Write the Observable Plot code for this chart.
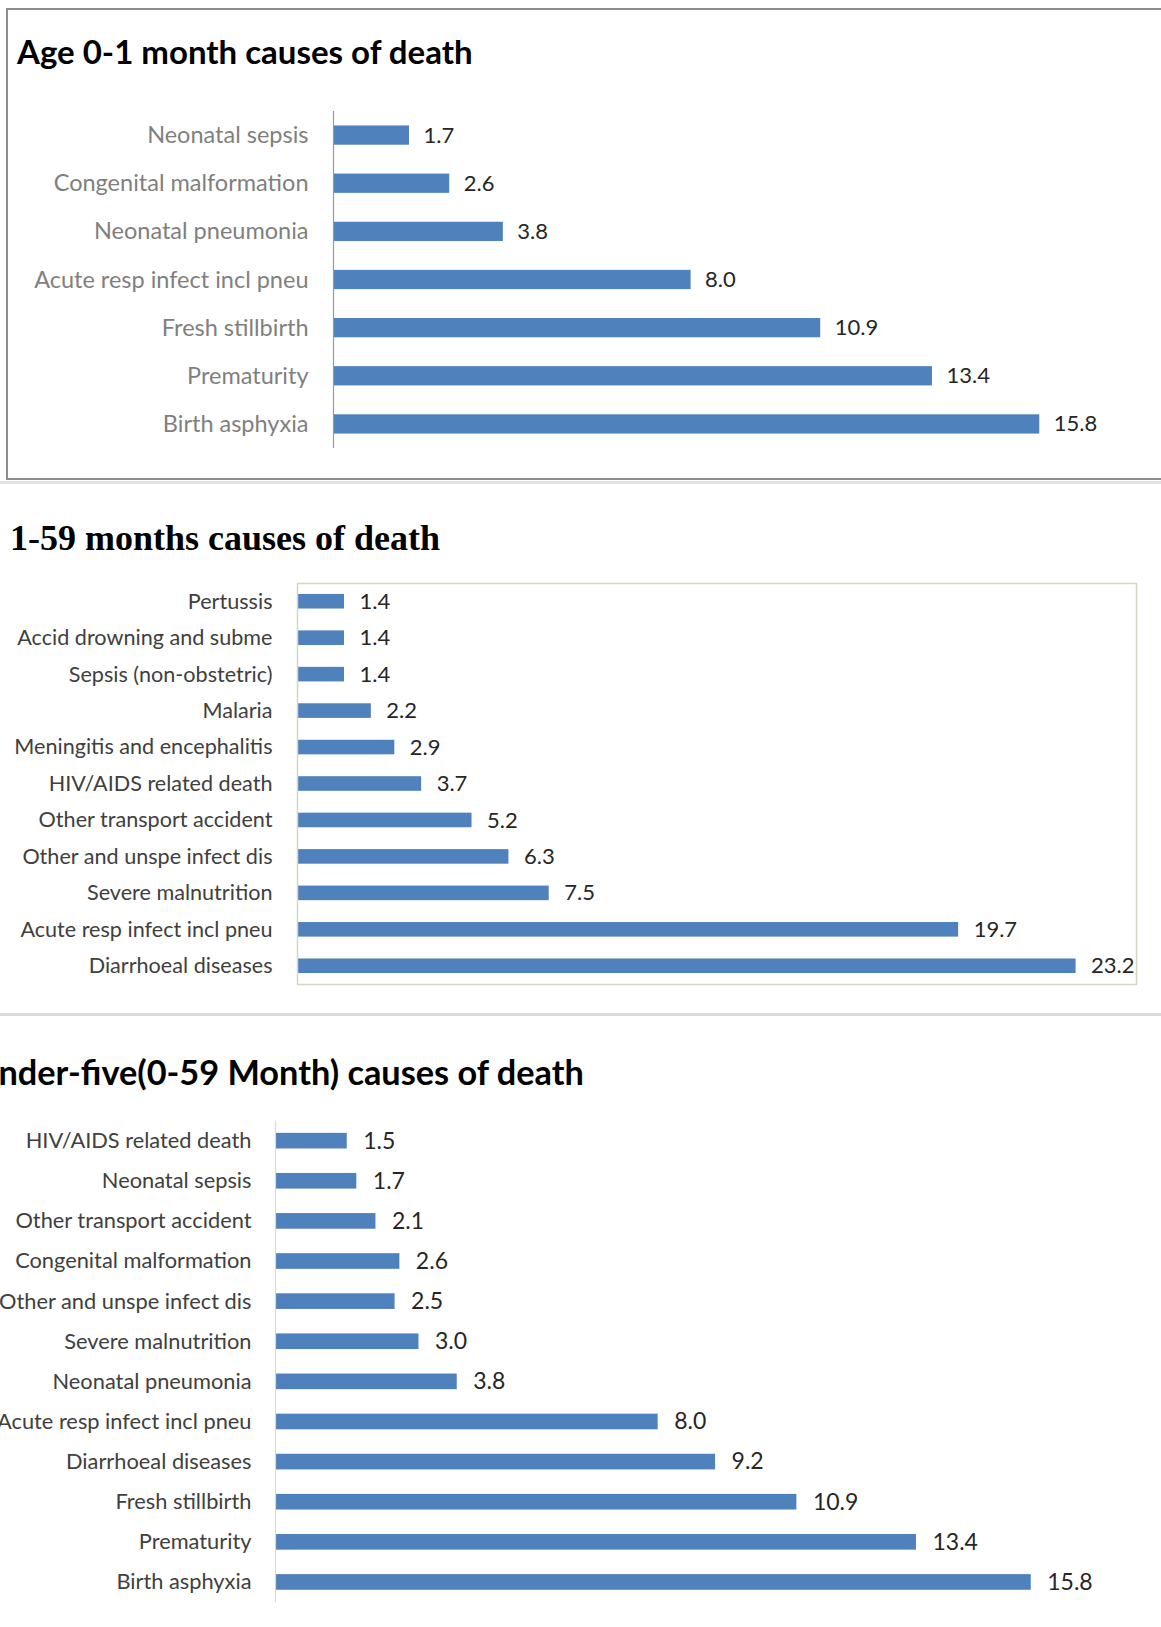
<!DOCTYPE html>
<html>
<head>
<meta charset="utf-8">
<script src="https://cdn.jsdelivr.net/npm/d3@7"></script>
<script src="https://cdn.jsdelivr.net/npm/@observablehq/plot@0.6"></script>
<style>
  html, body { margin: 0; padding: 0; background: #fff; }
  #page { position: relative; width: 1161px; height: 1627px; overflow: hidden; background: #fff; }
  .abs { position: absolute; }
  .title-sans { font-family: Lato, sans-serif; font-weight: 700; line-height: 1; color: #000; white-space: nowrap; }
  .title-serif { font-family: "Liberation Serif", serif; font-weight: 700; font-size: 36px; line-height: 36px; color: #000; white-space: nowrap; }
</style>
</head>
<body>
<div id="page">
  <div id="box1" class="abs" style="left:6px;top:8px;width:1180px;height:472px;box-sizing:border-box;border:2px solid #8e8e8e;"></div>
  <div class="abs" style="left:0;top:481px;width:1161px;height:3px;background:#e2e2e2;"></div>
  <div class="abs" style="left:0;top:1013px;width:1161px;height:3px;background:#dcdcdc;"></div>
  <div id="t1" class="abs title-sans" style="left:17px;top:35px;font-size:33px;">Age 0-1 month causes of death</div>
  <div id="t2" class="abs title-serif" style="left:10px;top:520px;">1-59 months causes of death</div>
  <div id="t3" class="abs title-sans" style="left:-23px;top:1055px;font-size:34.3px;">Under-five(0-59 Month) causes of death</div>
  <div id="c1" class="abs" style="left:0;top:80px;"></div>
  <div id="c2" class="abs" style="left:0;top:570px;"></div>
  <div id="c3" class="abs" style="left:0;top:1100px;"></div>
</div>
<script>
// Age 0-1 month: causes of death (%), listed top to bottom
const neonatalCauses = ["Neonatal sepsis", "Congenital malformation", "Neonatal pneumonia",
  "Acute resp infect incl pneu", "Fresh stillbirth", "Prematurity", "Birth asphyxia"];
const neonatalValues = [1.7, 2.6, 3.8, 8.0, 10.9, 13.4, 15.8];

// 1-59 months: causes of death (%)
const childCauses = ["Pertussis", "Accid drowning and subme", "Sepsis (non-obstetric)", "Malaria",
  "Meningitis and encephalitis", "HIV/AIDS related death", "Other transport accident",
  "Other and unspe infect dis", "Severe malnutrition", "Acute resp infect incl pneu", "Diarrhoeal diseases"];
const childValues = [1.4, 1.4, 1.4, 2.2, 2.9, 3.7, 5.2, 6.3, 7.5, 19.7, 23.2];

// Under-five (0-59 months): causes of death (%)
const underFiveCauses = ["HIV/AIDS related death", "Neonatal sepsis", "Other transport accident",
  "Congenital malformation", "Other and unspe infect dis", "Severe malnutrition", "Neonatal pneumonia",
  "Acute resp infect incl pneu", "Diarrhoeal diseases", "Fresh stillbirth", "Prematurity", "Birth asphyxia"];
const underFiveValues = [1.5, 1.7, 2.1, 2.6, 2.5, 3.0, 3.8, 8.0, 9.2, 10.9, 13.4, 15.8];

const barColor = "#4f81bd";

function rows(causes, values) {
  return causes.map((cause, i) => ({cause, value: values[i]}));
}

function barChart({causes, values, height, marginTop, marginBottom, marginLeft, marginRight,
                   xMax, padding, labelColor, labelSize, valueSize, valueDx, axisColor, tickPadding, frame}) {
  const data = rows(causes, values);
  const marks = [
    Plot.barX(data, {x: "value", y: "cause", fill: barColor}),
    Plot.text(data, {
      x: "value", y: "cause", text: d => d.value.toFixed(1),
      textAnchor: "start", dx: valueDx, fill: "#262626",
      fontSize: valueSize, fontFamily: "Lato, sans-serif"
    }),
    Plot.axisY({
      tickSize: 0, tickPadding, fill: labelColor,
      fontSize: labelSize, fontFamily: "Lato, sans-serif"
    })
  ];
  if (frame) marks.push(Plot.frame({stroke: frame, strokeWidth: 1.5}));
  else marks.push(Plot.ruleX([0], {stroke: axisColor, strokeWidth: 1.2}));
  return Plot.plot({
    width: 1161, height, marginTop, marginBottom, marginLeft, marginRight,
    style: {background: "transparent", overflow: "visible"},
    x: {domain: [0, xMax], axis: null},
    y: {domain: causes, paddingInner: padding, paddingOuter: padding / 2, round: false, label: null},
    marks
  });
}

document.getElementById("c1").append(barChart({
  causes: neonatalCauses, values: neonatalValues,
  height: 400, marginTop: 31, marginBottom: 32, marginLeft: 333, marginRight: 23.4,
  xMax: 18, padding: 0.6, labelColor: "#7f7f7f", labelSize: 23.5, valueSize: 22, valueDx: 14,
  axisColor: "#9a9a9a", tickPadding: 25
}));

document.getElementById("c2").append(barChart({
  causes: childCauses, values: childValues,
  height: 420, marginTop: 13, marginBottom: 6, marginLeft: 297, marginRight: 25,
  xMax: 25, padding: 0.6, labelColor: "#404040", labelSize: 21.6, valueSize: 22, valueDx: 15,
  tickPadding: 25, frame: "#d6d6c3"
}));

document.getElementById("c3").append(barChart({
  causes: underFiveCauses, values: underFiveValues,
  height: 527, marginTop: 20.6, marginBottom: 25, marginLeft: 275, marginRight: 25,
  xMax: 18, padding: 0.61, labelColor: "#404040", labelSize: 21.8, valueSize: 23, valueDx: 16,
  axisColor: "#d9d9d9", tickPadding: 24
}));

// Shift the under-five title so its first letter sits just past the left edge
const t3 = document.getElementById("t3");
const probe = document.createElement("span");
probe.className = "title-sans";
probe.style.position = "absolute";
probe.style.visibility = "hidden";
probe.style.fontSize = t3.style.fontSize;
probe.textContent = "U";
document.body.append(probe);
t3.style.left = (-probe.getBoundingClientRect().width - 1) + "px";
probe.remove();
</script>
</body>
</html>
